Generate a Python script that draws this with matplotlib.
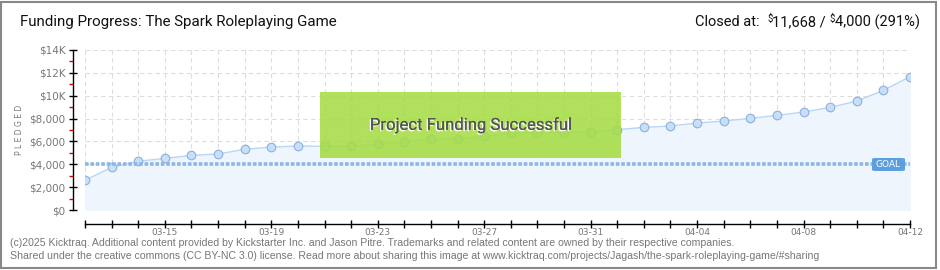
import numpy as np
import pandas as pd
import matplotlib
matplotlib.use("Agg")
import matplotlib.pyplot as plt
from matplotlib.patches import Rectangle, FancyBboxPatch
import matplotlib.patheffects as pe

# daily pledged totals, 03-12 .. 04-12
dates = pd.date_range("2025-03-12", "2025-04-12", freq="D")
pledged = [2600, 3730, 4260, 4520, 4780, 4900, 5310, 5510, 5600, 5570,
           5570, 5740, 5950, 6210, 6210, 6440, 6735, 6765, 6765, 6850,
           7030, 7230, 7350, 7610, 7785, 8020, 8280, 8570, 8980, 9530,
           10470, 11668]
goal = 4000
yticks = [0, 2000, 4000, 6000, 8000, 10000, 12000, 14000]
ytick_labels = ["$0", "$2,000", "$4,000", "$6,000", "$8,000", "$10K", "$12K", "$14K"]

W, H = 940, 270
fig = plt.figure(figsize=(W / 100, H / 100), dpi=100)
fig.patch.set_facecolor("white")

x = np.arange(len(pledged))
ax = fig.add_axes([85 / W, 60 / H, 825 / W, 160 / H])
ax.set_xlim(0, len(pledged) - 1)
ax.set_ylim(0, 14000)
ax.patch.set_alpha(0)

# grid
for xi in x:
    ax.plot([xi, xi], [0, 14000], color="#dddddd", lw=0.8, ls=(0, (4, 3)), zorder=1)
for yv in yticks:
    ax.plot([0, x[-1]], [yv, yv], color="#dddddd", lw=0.8, ls=(0, (4, 3)), zorder=1)

ax.fill_between(x, pledged, 0, color="#eef5fd", zorder=2)
ax.plot(x, pledged, color="#b9d7f4", lw=1, zorder=3)
ax.plot(x, pledged, ls="none", marker="o", ms=6.2, mfc="#c6dffa", mec="#8fb0d8",
        mew=0.8, zorder=4)

# goal line
ax.plot([0, x[-1]], [goal, goal], color="#8db6e2", lw=2.6, ls=(0, (1.0, 0.5)), zorder=5)

# success banner
ax.add_patch(Rectangle((8.83, 4550), 20.14 - 8.83, 10325 - 4550, facecolor="#a6dc45",
                       edgecolor="none", alpha=0.88, zorder=6))
ax.text((8.83 + 20.14) / 2, 7450, "Project Funding Successful", ha="center", va="center",
        fontsize=12, family="Roboto", color="#555555", zorder=7,
        path_effects=[pe.withSimplePatchShadow(offset=(-1, -1), shadow_rgbFace="white", alpha=1.0), pe.Normal()])

# goal tag
fig.patches.append(FancyBboxPatch((872 / W, 1 - 171 / H), 33 / W, 13 / H,
                                  boxstyle="round,pad=0,rounding_size=0.004",
                                  transform=fig.transFigure, facecolor="#5b9fe0",
                                  edgecolor="none", zorder=8))
fig.text(888.5 / W, 1 - 164.5 / H, "GOAL", ha="center", va="center", fontsize=6.5,
         color="white", family="DejaVu Sans", zorder=9)

# axes styling
for s in ["top", "right"]:
    ax.spines[s].set_visible(False)
ax.spines["left"].set_position(("outward", 9))
ax.spines["bottom"].set_position(("outward", 10))
ax.spines["left"].set_color("black")
ax.spines["bottom"].set_color("black")
ax.spines["left"].set_linewidth(1)
ax.spines["bottom"].set_linewidth(1)

ax.set_yticks(yticks)
ax.set_yticklabels(ytick_labels)
ax.set_yticks(np.arange(1000, 14000, 2000), minor=True)
ax.tick_params(axis="y", which="major", direction="inout", length=6, width=1,
               colors="black", labelcolor="#777777", labelsize=7.5, pad=2)
ax.tick_params(axis="y", which="minor", direction="out", length=3, width=1, color="#dd0000")

ax.set_xticks(x)
labels = [d.strftime("%m-%d") if (i - 3) % 4 == 0 else "" for i, d in enumerate(dates)]
ax.set_xticklabels(labels)
ax.tick_params(axis="x", direction="inout", length=6, width=1, colors="black",
               labelcolor="#777777", labelsize=6.5, pad=0)
for lab in ax.get_xticklabels() + ax.get_yticklabels():
    lab.set_family("DejaVu Sans")

fig.text(20 / W, 1 - 130 / H, "P L E D G E D", rotation=90, ha="center", va="center",
         fontsize=5.5, color="#777777")

# title
fig.text(20 / W, 1 - 22 / H, "Funding Progress: The Spark Roleplaying Game", ha="left",
         va="center", fontsize=10.9, family="Roboto", color="#111111")

# closed-at text with raised dollar signs, laid out right to left
pieces = [("Closed at:  ", False), ("$", True), ("11,668 / ", False), ("$", True),
          ("4,000 (291%)", False)]
fig.canvas.draw()
renderer = fig.canvas.get_renderer()
xr = 920
for txt, sup in reversed(pieces):
    t = fig.text(xr / W, 1 - (19 if sup else 22) / H, txt.replace("$", r"\$"), ha="right",
                 va="center", fontsize=7 if sup else 10.5, family="Roboto", color="#111111")
    bb = t.get_window_extent(renderer)
    xr -= bb.width

# footer
fig.text(10 / W, 1 - 243 / H,
         "(c)2025 Kicktraq. Additional content provided by Kickstarter Inc. and Jason Pitre. "
         "Trademarks and related content are owned by their respective companies.",
         ha="left", va="center", fontsize=7.6, family="Liberation Sans", color="#777777")
fig.text(10 / W, 1 - 256 / H,
         "Shared under the creative commons (CC BY-NC 3.0) license. Read more about sharing "
         "this image at www.kicktraq.com/projects/Jagash/the-spark-roleplaying-game/#sharing",
         ha="left", va="center", fontsize=7.6, family="Liberation Sans", color="#777777")

# frame
fig.patches.append(Rectangle((1 / W, 2 / H), 935 / W, 266 / H, transform=fig.transFigure,
                             fill=False, edgecolor="#888888", lw=1.5, zorder=10))

fig.savefig("out.png", dpi=100)
